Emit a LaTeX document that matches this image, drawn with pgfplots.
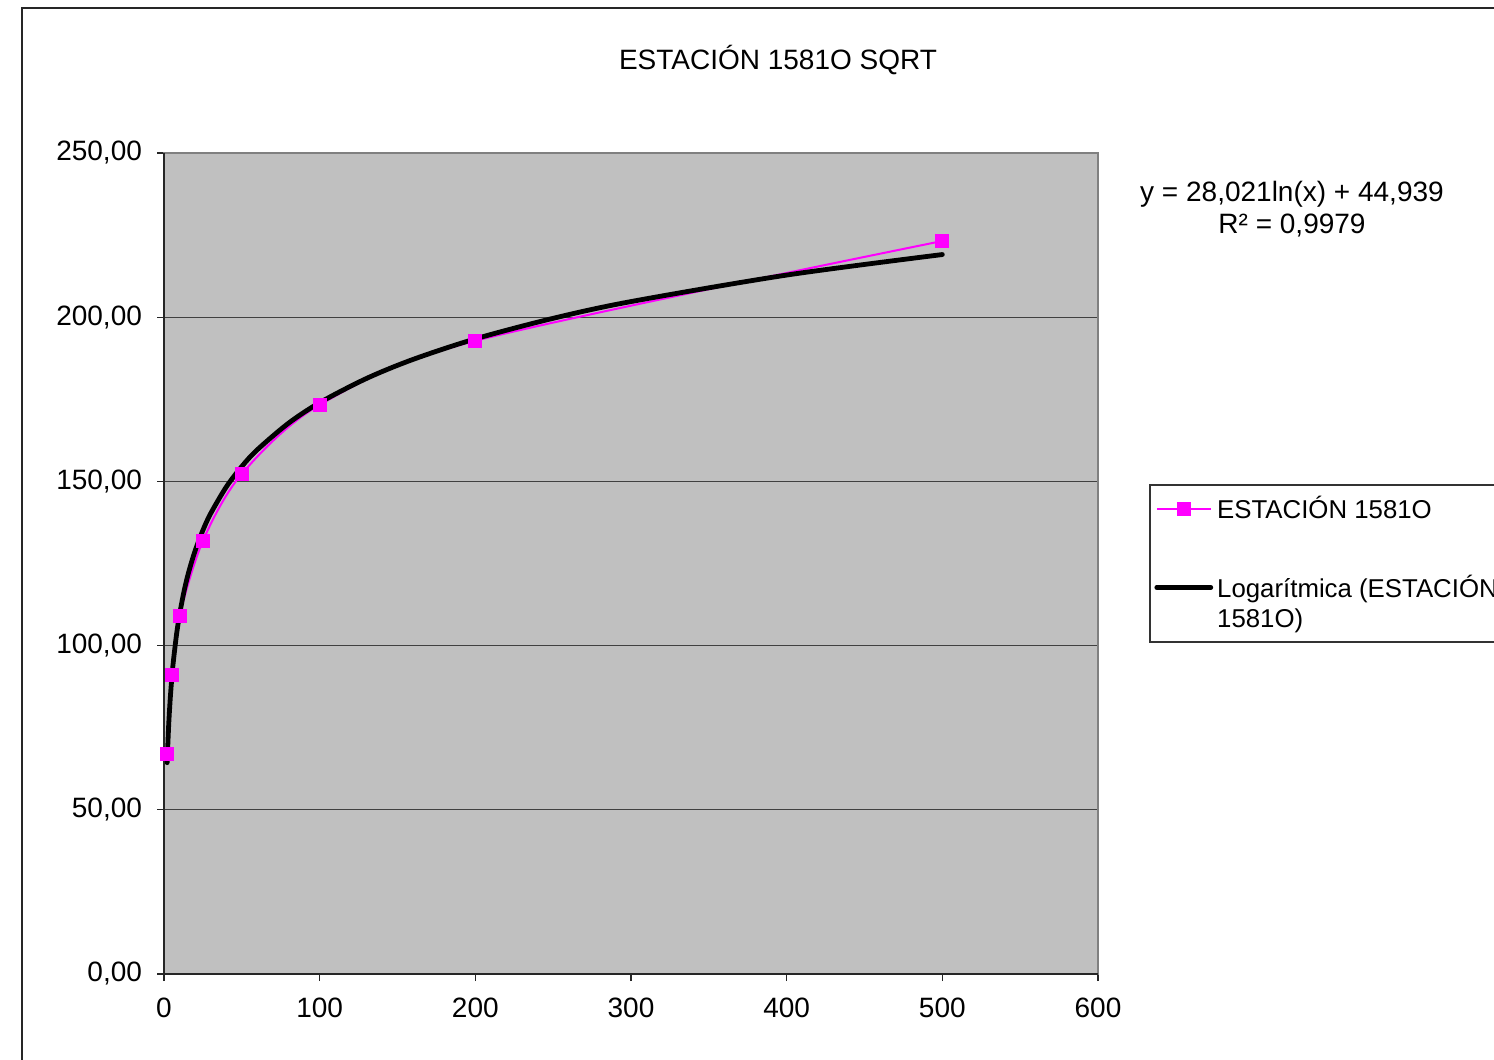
\documentclass[border=0pt]{standalone}
\usepackage{fontspec}
\setmainfont{Liberation Sans}
\usepackage{pgfplots}
\pgfplotsset{compat=1.18}
\definecolor{plotgray}{HTML}{C0C0C0}
\definecolor{mag}{HTML}{FF00FF}
\begin{document}
\begin{tikzpicture}
\useasboundingbox (0,0) rectangle (747pt,-530pt);
\clip (0,0) rectangle (747pt,-530pt);
\draw[black!85, line width=0.6pt] (11pt,-600pt) -- (11pt,-4pt) -- (800pt,-4pt);
\node[font=\fontsize{14pt}{16.8pt}\selectfont] at (389pt,-30pt) {ESTACIÓN 1581O SQRT};
\node[font=\fontsize{14pt}{16.8pt}\selectfont] at (646pt,-97pt) {y = 28,021ln(x) + 44,939};
\node[font=\fontsize{14pt}{16.8pt}\selectfont] at (646pt,-113pt) {R² = 0,9979};
% legend frame
\draw[black!80, fill=white, line width=0.6pt] (575pt,-242.5pt) rectangle (800pt,-321pt);
\begin{axis}[
  at={(82pt,-487pt)}, anchor=south west,
  scale only axis, width=467pt, height=410.5pt,
  xmin=0, xmax=600, ymin=0, ymax=250,
  xtick={0,100,...,600}, ytick={0,50,...,250},
  xtick pos=left, ytick pos=left,
  tick align=outside, major tick length=3.5pt,
  tick style={black!85, line width=0.6pt},
  axis background/.style={fill=plotgray},
  axis line style={draw=black!50, line width=0.6pt},
  ymajorgrids, grid style={black!75, line width=0.6pt},
  tick label style={font=\fontsize{14pt}{16.8pt}\selectfont},
  /pgf/number format/assume math mode=true,
  yticklabel style={xshift=-4pt, /pgf/number format/.cd, fixed, fixed zerofill, precision=2, use comma},
  xticklabel style={yshift=-5pt, /pgf/number format/.cd, 1000 sep={}},
  clip=false,
  legend cell align=left,
  legend style={at={(1.0557,0.5993)}, anchor=north west, draw=none, fill=none,
    font=\fontsize{12.9pt}{15pt}\selectfont, row sep=22.5pt, inner xsep=2pt, inner ysep=5pt},
  legend image code/.code={\draw[mark repeat=2,mark phase=2,#1] plot coordinates {(0pt,0pt) (13.5pt,0pt) (27pt,0pt)};},
]
\addplot[mag, line width=1pt, smooth, mark=square*, mark size=3.2pt, mark options={solid, fill=mag, draw=mag, line width=0.6pt}]
  coordinates {(2,67.0)(5,91.0)(10,109.0)(25,131.9)(50,152.3)(100,173.3)(200,192.8)(500,223.2)};
\addlegendentry{ESTACIÓN 1581O}
\addplot[black, line width=2.4pt, line cap=round, line join=round, smooth, no marks]
  coordinates {(2,64.36)(3,75.72)(4,83.78)(5,90.04)(6,95.15)(8,103.21)(10,109.46)(13,116.81)(16,122.63)(20,128.88)(25,135.13)(30,140.24)(40,148.31)(50,154.56)(60,159.67)(80,167.73)(100,173.98)(130,181.33)(160,187.15)(200,193.40)(250,199.66)(300,204.76)(400,212.83)(500,219.08)};
\addlegendentry{\begin{tabular}[t]{@{}l@{}}Logarítmica (ESTACIÓN\\1581O)\end{tabular}}
\draw[black!85, line width=0.6pt] (rel axis cs:0,1) -- (rel axis cs:0,0) -- (rel axis cs:1,0);
\end{axis}
\end{tikzpicture}
\end{document}
